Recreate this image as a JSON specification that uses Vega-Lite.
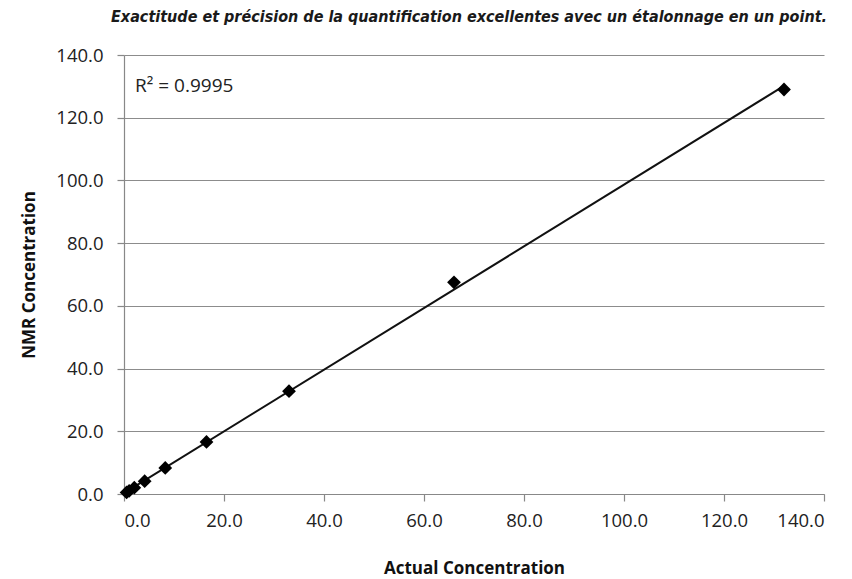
{
  "$schema": "https://vega.github.io/schema/vega-lite/v6.json",
  "width": 700,
  "height": 439,
  "autosize": {"type": "none"},
  "padding": {"left": 124, "top": 55, "right": 28, "bottom": 85},
  "background": "white",
  "title": {
    "text": "Exactitude et précision de la quantification excellentes avec un étalonnage en un point.",
    "font": "Liberation Sans Narrow, DejaVu Sans Condensed, sans-serif",
    "fontStyle": "italic",
    "fontWeight": "bold",
    "fontSize": 16,
    "color": "#1a1a1a",
    "anchor": "middle",
    "offset": 21,
    "dx": -5
  },
  "config": {
    "view": {"stroke": null},
    "axis": {
      "labelFont": "Open Sans",
      "labelFontSize": 18.5,
      "labelColor": "#222",
      "titleFont": "Open Sans",
      "titleFontSize": 17,
      "titleFontWeight": "bold",
      "titleColor": "#111",
      "domain": true,
      "domainColor": "#888",
      "domainWidth": 1.2,
      "tickColor": "#888",
      "tickWidth": 1.2,
      "gridColor": "#8c8c8c",
      "gridWidth": 1.2
    }
  },
  "data": {
    "values": [
      {"actual": 0.52, "nmr": 0.5},
      {"actual": 1.03, "nmr": 1.0},
      {"actual": 2.06, "nmr": 2.0},
      {"actual": 4.13, "nmr": 4.1},
      {"actual": 8.25, "nmr": 8.3},
      {"actual": 16.5, "nmr": 16.6},
      {"actual": 33.0, "nmr": 32.8},
      {"actual": 66.0, "nmr": 67.5},
      {"actual": 132.0, "nmr": 129.0}
    ]
  },
  "encoding": {
    "x": {
      "field": "actual",
      "type": "quantitative",
      "scale": {"domain": [0, 140], "nice": false, "zero": true},
      "axis": {
        "title": "Actual Concentration",
        "values": [0, 20, 40, 60, 80, 100, 120, 140],
        "format": ".1f",
        "grid": false,
        "tickSize": 7,
        "labelPadding": 10,
        "titlePadding": 31
      }
    },
    "y": {
      "field": "nmr",
      "type": "quantitative",
      "scale": {"domain": [0, 140], "nice": false},
      "axis": {
        "title": "NMR Concentration",
        "values": [0, 20, 40, 60, 80, 100, 120, 140],
        "format": ".1f",
        "grid": true,
        "tickSize": 7,
        "labelPadding": 14,
        "titlePadding": 17
      }
    }
  },
  "layer": [
    {
      "data": {"values": [{"a": 0}]},
      "mark": {"type": "rule", "color": "#888", "strokeWidth": 1.2},
      "encoding": {"x": {"field": "a", "type": "quantitative"}, "y": {"datum": 0}, "y2": {"datum": 140}}
    },
    {
      "transform": [{"regression": "nmr", "on": "actual", "extent": [0, 132]}],
      "mark": {"type": "line", "color": "#111", "strokeWidth": 2}
    },
    {
      "mark": {"type": "point", "shape": "diamond", "filled": true, "color": "#000", "size": 190, "opacity": 1}
    },
    {
      "data": {"values": [{"x": 2.2, "y": 130.2, "label": "R² = 0.9995"}]},
      "mark": {"type": "text", "align": "left", "baseline": "middle", "font": "Open Sans", "fontSize": 19, "color": "#222"},
      "encoding": {
        "x": {"field": "x", "type": "quantitative"},
        "y": {"field": "y", "type": "quantitative"},
        "text": {"field": "label"}
      }
    }
  ]
}
